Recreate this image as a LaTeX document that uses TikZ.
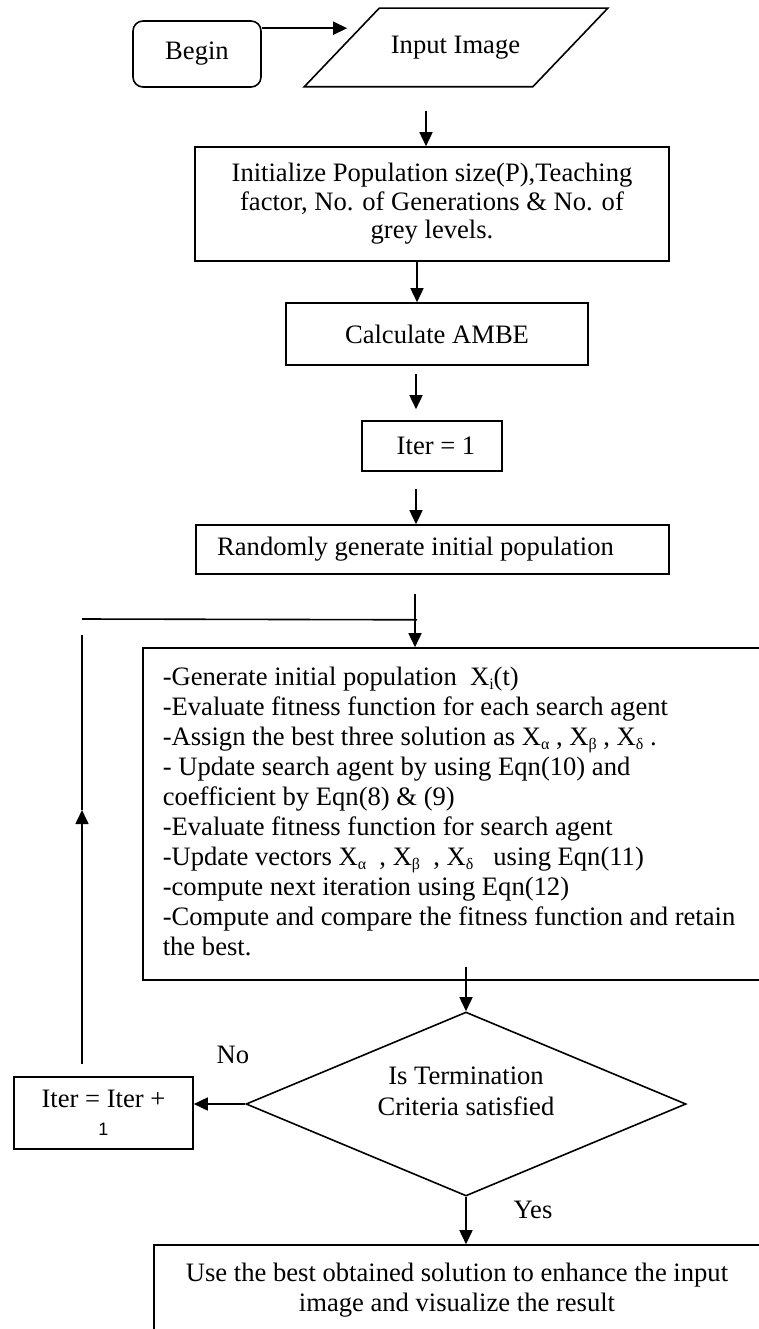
\documentclass[tikz,border=0pt]{standalone}
\usepackage{fontspec}
\setmainfont{Liberation Serif}
\newfontfamily\arialf{Liberation Sans}
\usetikzlibrary{arrows.meta,calc,shapes.geometric}
\newcommand{\lsub}[1]{\raisebox{-4pt}{\fontsize{16}{16}\selectfont #1}}
\begin{document}
\begin{tikzpicture}[x=1pt,y=-1pt,
  line width=1.6pt,
  font=\fontsize{26.6}{30}\selectfont,
  box/.style={draw, line width=1.6pt, inner sep=0pt, align=center},
  txt/.style={inner sep=0pt, align=center},
  arr/.style={-{Triangle[length=14pt,width=13pt]}, line width=1.6pt}]
\useasboundingbox (0,0) rectangle (759,1329);

% nodes
\node[box, rounded corners=10pt, minimum width=128, minimum height=66] (begin) at (197,54) {Begin};
\node[txt, minimum width=227, minimum height=77] (inp) at (455.5,47.5) {Input Image};
\draw ($(inp.south west)+(-37,0)$) -- ($(inp.north west)+(38,0)$) -- ($(inp.north east)+(38,0)$) -- ($(inp.south east)+(-37,0)$) -- cycle;

\node[box, minimum width=474, minimum height=114, font=\fontsize{26.6}{28.5}\selectfont] (init) at (432,204)
  {Initialize Population size(P),Teaching\\ factor, No. of Generations \& No. of\\ grey levels.};
\node[box, minimum width=302, minimum height=62] (calc) at (437,334) {Calculate AMBE};
\node[box, minimum width=140, minimum height=50] (it1) at (432,446) {\hspace*{8pt}Iter = 1};
\node[box, minimum width=473, minimum height=49] (rand) at (432.5,549.5) {Randomly generate initial population\hspace*{34pt}};

\node[draw, inner sep=0pt, minimum width=619, minimum height=332] (big) at (452.5,814) {};
\node[inner sep=0pt, anchor=north west, align=left] (bigtxt) at (162,666) {%
-Generate initial population \ X\lsub{i}(t)\\
-Evaluate fitness function for each search agent\\
-Assign the best three solution as X\lsub{α} , X\lsub{β} , X\lsub{δ} .\\
- Update search agent by using Eqn(10) and\\
coefficient by Eqn(8) \& (9)\\
-Evaluate fitness function for search agent\\
-Update vectors X\lsub{α} \ , X\lsub{β} \ , X\lsub{δ} \ \ using Eqn(11)\\
-compute next iteration using Eqn(12)\\
-Compute and compare the fitness function and retain\\
the best.};

\node[draw, diamond, inner sep=0pt, minimum width=440, minimum height=184] (dec) at (466,1104) {};
\node[txt, font=\fontsize{26.6}{31}\selectfont] (dectxt) at (466,1091) {Is Termination\\ Criteria satisfied};

\node[box, minimum width=179, minimum height=72, font=\fontsize{26.6}{28}\selectfont] (itp) at (103.5,1113)
  {Iter = Iter +\\ {\arialf\fontsize{18}{18}\selectfont 1}};

\node[draw, inner sep=0pt, minimum width=608, minimum height=120] (fin) at (458,1305) {};
\node[txt] (fintxt) at (457,1290) {Use the best obtained solution to enhance the input\\ image and visualize the result};

\node[txt] (no) at (233,1055) {No};
\node[txt] (yes) at (533,1210) {Yes};

% connectors
\draw[arr] ($(begin.north east)+(0,8)$) -- ($(inp.north west)+(6,20)$);
\draw[arr] ($(inp.south)+(-29.5,24)$) -- ($(init.north)+(-6,0)$);
\draw[arr] ($(init.south)+(-15,0)$) -- ($(calc.north)+(-20,0)$);
\draw[arr] ($(calc.south)+(-21,8)$) -- ($(it1.north)+(-16,-11)$);
\draw[arr] ($(it1.south)+(-16,17)$) -- ($(rand.north)+(-16.5,0)$);
\draw[arr] ($(rand.south)+(-17.5,19)$) -- ($(big.north)+(-37.5,0)$);
\coordinate (lp) at (82,619);
\coordinate (lt) at (82,635);
\coordinate (lm) at (82,810);
\draw (lp) -- ($(rand.south)+(-15.5,45)$);
\draw[arr] ($(itp.north)+(-21.5,-12)$) -- (lm);
\draw (lm) -- (lt);
\draw[arr] ($(big.south)+(13.5,-14)$) -- (dec.north);
\draw[arr] (dec.west) -- (dec.west -| itp.east);
\draw[arr] (dec.south) -- (fin.north -| dec.south);
\end{tikzpicture}
\end{document}
